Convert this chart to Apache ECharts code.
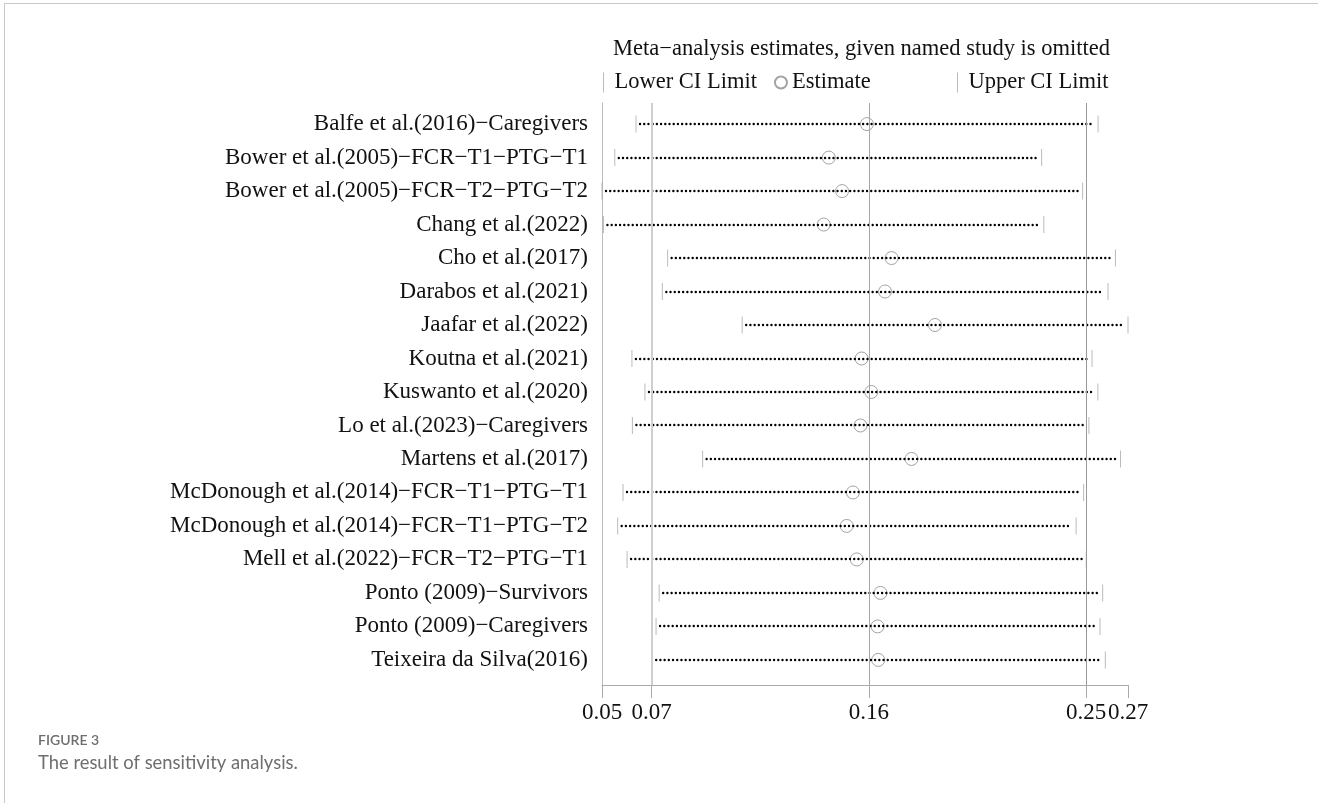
<!DOCTYPE html>
<html>
<head>
<meta charset="utf-8">
<script src="https://cdn.jsdelivr.net/npm/echarts@6/dist/echarts.min.js"></script>
<style>
  html, body { margin: 0; padding: 0; background: #fff; }
  #frame { position: absolute; left: 4px; top: 3px; width: 1314px; height: 800px;
           border-left: 1px solid #c9c9c9; border-top: 1px solid #c9c9c9; }
  #chart { position: absolute; left: 0; top: 0; width: 1318px; height: 803px; }
</style>
</head>
<body>
<div id="frame"></div>
<div id="chart"></div>
<script>
// Studies omitted one at a time, top to bottom
const studies = [
  'Balfe et al.(2016)\u2212Caregivers',
  'Bower et al.(2005)\u2212FCR\u2212T1\u2212PTG\u2212T1',
  'Bower et al.(2005)\u2212FCR\u2212T2\u2212PTG\u2212T2',
  'Chang et al.(2022)',
  'Cho et al.(2017)',
  'Darabos et al.(2021)',
  'Jaafar et al.(2022)',
  'Koutna et al.(2021)',
  'Kuswanto et al.(2020)',
  'Lo et al.(2023)\u2212Caregivers',
  'Martens et al.(2017)',
  'McDonough et al.(2014)\u2212FCR\u2212T1\u2212PTG\u2212T1',
  'McDonough et al.(2014)\u2212FCR\u2212T1\u2212PTG\u2212T2',
  'Mell et al.(2022)\u2212FCR\u2212T2\u2212PTG\u2212T1',
  'Ponto (2009)\u2212Survivors',
  'Ponto (2009)\u2212Caregivers',
  'Teixeira da Silva(2016)'
];

// Pooled estimate and CI after omitting each study
const lowerCI  = [0.0635, 0.0547, 0.0494, 0.0500, 0.0766, 0.0744, 0.1075, 0.0618, 0.0672,
                  0.0620, 0.0911, 0.0581, 0.0559, 0.0598, 0.0731, 0.0718, 0.0702];
const estimate = [0.1592, 0.1434, 0.1489, 0.1413, 0.1694, 0.1667, 0.1874, 0.1570, 0.1610,
                  0.1565, 0.1777, 0.1534, 0.1508, 0.1550, 0.1648, 0.1636, 0.1639];
const upperCI  = [0.2550, 0.2316, 0.2486, 0.2325, 0.2622, 0.2591, 0.2674, 0.2525, 0.2549,
                  0.2512, 0.2643, 0.2490, 0.2459, 0.2501, 0.2569, 0.2558, 0.2580];

// Full-sample pooled result: lower CI, estimate, upper CI
const pooled = [0.07, 0.16, 0.25];

// Axis runs from the smallest lower limit to the largest upper limit
const axisMin = Math.min(...lowerCI);
const axisMax = Math.max(...upperCI);
const xTicks = [axisMin, pooled[0], pooled[1], pooled[2], axisMax];

const serif = '"Liberation Serif", "DejaVu Serif", serif';
const sans = 'Lato, "Open Sans", sans-serif';
const rowIdx = studies.map((_, i) => i);

const chart = echarts.init(document.getElementById('chart'), null, { renderer: 'canvas' });

chart.setOption({
  animation: false,
  backgroundColor: 'transparent',
  title: [
    {
      text: 'Meta\u2212analysis estimates, given named study is omitted',
      left: 613, top: 38, padding: 0,
      textStyle: { fontFamily: serif, fontSize: 22.5, fontWeight: 'normal', color: '#111' }
    },
    {
      text: 'FIGURE 3',
      left: 38, top: 733, padding: 0,
      textStyle: { fontFamily: sans, fontSize: 14, fontWeight: 600, color: '#6e6e6e' }
    },
    {
      text: 'The result of sensitivity analysis.',
      left: 38, top: 754, padding: 0,
      textStyle: { fontFamily: sans, fontSize: 18.4, fontWeight: 'normal', color: '#6e6e6e' }
    }
  ],
  legend: [
    {
      left: 603, top: 71, padding: 0,
      itemWidth: 12, itemHeight: 20, itemGap: 17,
      selectedMode: false,
      textStyle: { fontFamily: serif, fontSize: 22.5, color: '#111' },
      data: [
        { name: 'Lower CI Limit', icon: 'path://M0,0L1,0L1,20L0,20Z' },
        { name: 'Estimate', icon: 'circle' }
      ]
    },
    {
      left: 957, top: 71, padding: 0,
      itemWidth: 12, itemHeight: 20,
      selectedMode: false,
      textStyle: { fontFamily: serif, fontSize: 22.5, color: '#111' },
      data: [
        { name: 'Upper CI Limit', icon: 'path://M0,0L1,0L1,20L0,20Z' }
      ]
    }
  ],
  grid: { left: 602, right: 190, top: 103, bottom: 118, containLabel: false },
  xAxis: {
    type: 'value',
    position: 'bottom',
    min: axisMin,
    max: axisMax,
    splitLine: { show: false },
    axisLine: { show: true, onZero: false, lineStyle: { color: '#aaa', width: 1 } },
    axisTick: { show: true, customValues: xTicks, length: 13, lineStyle: { color: '#aaa', width: 1 } },
    axisLabel: {
      customValues: xTicks,
      margin: 16,
      fontFamily: serif, fontSize: 23, color: '#111',
      formatter: v => v.toFixed(2)
    }
  },
  yAxis: {
    type: 'value',
    inverse: true,
    min: -0.63,
    max: 16.75,
    splitLine: { show: false },
    axisLine: { show: true, onZero: false, lineStyle: { color: '#bbb', width: 1 } },
    axisTick: { show: false },
    axisLabel: {
      customValues: rowIdx,
      margin: 14,
      fontFamily: serif, fontSize: 23, color: '#111',
      formatter: v => studies[Math.round(v)] || ''
    }
  },
  series: [
    {
      // dotted span from lower to upper limit
      type: 'custom',
      name: 'span',
      z: 4,
      silent: true,
      encode: { x: [1, 2], y: 0 },
      data: rowIdx.map(i => [i, lowerCI[i], upperCI[i]]),
      renderItem: (params, api) => {
        const a = api.coord([api.value(1), api.value(0)]);
        const b = api.coord([api.value(2), api.value(0)]);
        const y = Math.round(a[1]);
        return {
          type: 'line',
          shape: { x1: a[0] + 4, y1: y, x2: b[0] - 4, y2: y },
          style: { stroke: '#000', lineWidth: 2.4, lineCap: 'round', lineDash: [0.01, 4.2] }
        };
      }
    },
    {
      type: 'scatter',
      name: 'Lower CI Limit',
      z: 3,
      symbol: 'rect',
      symbolSize: [1, 17],
      itemStyle: { color: '#aaa' },
      data: rowIdx.map(i => [lowerCI[i], i]),
      markLine: {
        silent: true,
        symbol: 'none',
        label: { show: false },
        data: [
          { xAxis: pooled[0], lineStyle: { color: '#cfcfcf', width: 2, type: 'solid' } },
          { xAxis: pooled[1], lineStyle: { color: '#a6a6a6', width: 1, type: 'solid' } },
          { xAxis: pooled[2], lineStyle: { color: '#999', width: 1, type: 'solid' } }
        ]
      }
    },
    {
      type: 'scatter',
      name: 'Estimate',
      z: 3,
      symbol: 'circle',
      symbolSize: 13,
      itemStyle: { color: 'rgba(255,255,255,0)', borderColor: '#8c8c8c', borderWidth: 1 },
      data: rowIdx.map(i => [estimate[i], i])
    },
    {
      type: 'scatter',
      name: 'Upper CI Limit',
      z: 3,
      symbol: 'rect',
      symbolSize: [1, 17],
      itemStyle: { color: '#aaa' },
      data: rowIdx.map(i => [upperCI[i], i])
    }
  ]
});
</script>
</body>
</html>
